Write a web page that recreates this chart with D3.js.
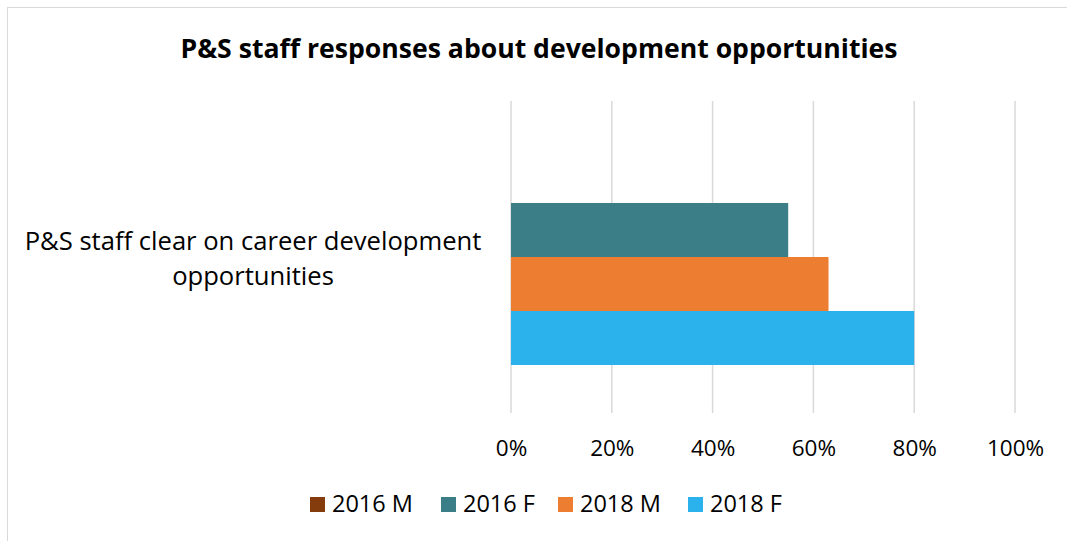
<!DOCTYPE html>
<html>
<head>
<meta charset="utf-8">
<script src="https://cdn.jsdelivr.net/npm/d3@7"></script>
<style>
  html, body { margin: 0; padding: 0; background: #fff; }
  svg { display: block; }
  text { font-family: "Open Sans", Lato, sans-serif; fill: #000; }
</style>
</head>
<body>
<svg id="chart" width="1067" height="541"></svg>
<script>
// Chart data
const title = "P&S staff responses about development opportunities";
const categories = ["P&S staff clear on career development opportunities"];
const categoryLines = [["P&S staff clear on career development", "opportunities"]];
const seriesNames = ["2016 M", "2016 F", "2018 M", "2018 F"];
const seriesColors = ["#843c0c", "#3c7e87", "#ed7d31", "#2bb1eb"];
const seriesValues = [
  [0],     // 2016 M
  [0.55],  // 2016 F
  [0.63],  // 2018 M
  [0.80]   // 2018 F
];
const xTicks = [0, 0.2, 0.4, 0.6, 0.8, 1.0];

const svg = d3.select("#chart");
const W = 1067, H = 541;
const FONT = "'Open Sans', Lato, sans-serif";

// Chart border
svg.append("rect")
  .attr("x", 7.5).attr("y", 7.5)
  .attr("width", W + 10).attr("height", H + 10)
  .attr("fill", "#fff").attr("stroke", "#d9d9d9").attr("stroke-width", 1);

// Title
svg.append("text")
  .attr("x", 539).attr("y", 58)
  .attr("text-anchor", "middle")
  .attr("font-size", 26.6).attr("font-weight", "bold")
  .text(title);

// Plot area
const plot = { left: 511, right: 1015, top: 101, bottom: 413 };

const x = d3.scaleLinear().domain([0, 1]).range([plot.left, plot.right]);
const y0 = d3.scaleBand().domain(categories)
  .range([plot.top, plot.bottom]).paddingInner(0).paddingOuter(48 / 216);
const y1 = d3.scaleBand().domain(seriesNames).range([0, y0.bandwidth()]).padding(0);

// Vertical gridlines
svg.append("g")
  .selectAll("line")
  .data(xTicks)
  .join("line")
  .attr("x1", d => x(d)).attr("x2", d => x(d))
  .attr("y1", plot.top).attr("y2", plot.bottom)
  .attr("stroke", "#d9d9d9").attr("stroke-width", 1.5);

// Bars
const rows = [];
categories.forEach((c, ci) => {
  seriesNames.forEach((s, si) => {
    rows.push({ cat: c, series: s, value: seriesValues[si][ci], color: seriesColors[si] });
  });
});
svg.append("g")
  .selectAll("rect")
  .data(rows)
  .join("rect")
  .attr("x", x(0))
  .attr("y", d => y0(d.cat) + y1(d.series))
  .attr("width", d => x(d.value) - x(0))
  .attr("height", y1.bandwidth())
  .attr("fill", d => d.color);

// X axis tick labels
const xAxis = d3.axisBottom(x).tickValues(xTicks).tickFormat(d3.format(".0%")).tickSize(0).tickPadding(0);
const gx = svg.append("g").attr("transform", `translate(0,456)`).call(xAxis);
gx.select(".domain").remove();
gx.selectAll("text").attr("font-size", 22.5).attr("font-family", FONT).attr("fill", "#000").attr("dy", 0);

// Category labels
const catG = svg.append("g");
categories.forEach((c, ci) => {
  const cy = y0(c) + y0.bandwidth() / 2;
  const t = catG.append("text")
    .attr("x", 253).attr("y", cy - 7)
    .attr("text-anchor", "middle")
    .attr("font-size", 25.6);
  categoryLines[ci].forEach((line, li) => {
    t.append("tspan").attr("x", 253).attr("dy", li === 0 ? 0 : 35).text(line);
  });
});

// Legend
const legendX = [310, 441, 558, 688];
const legend = svg.append("g");
seriesNames.forEach((s, i) => {
  const g = legend.append("g").attr("transform", `translate(${legendX[i]},497)`);
  g.append("rect").attr("width", 15).attr("height", 15).attr("fill", seriesColors[i]);
  g.append("text").attr("x", 22).attr("y", 15).attr("font-size", 23.5).text(s);
});
</script>
</body>
</html>
